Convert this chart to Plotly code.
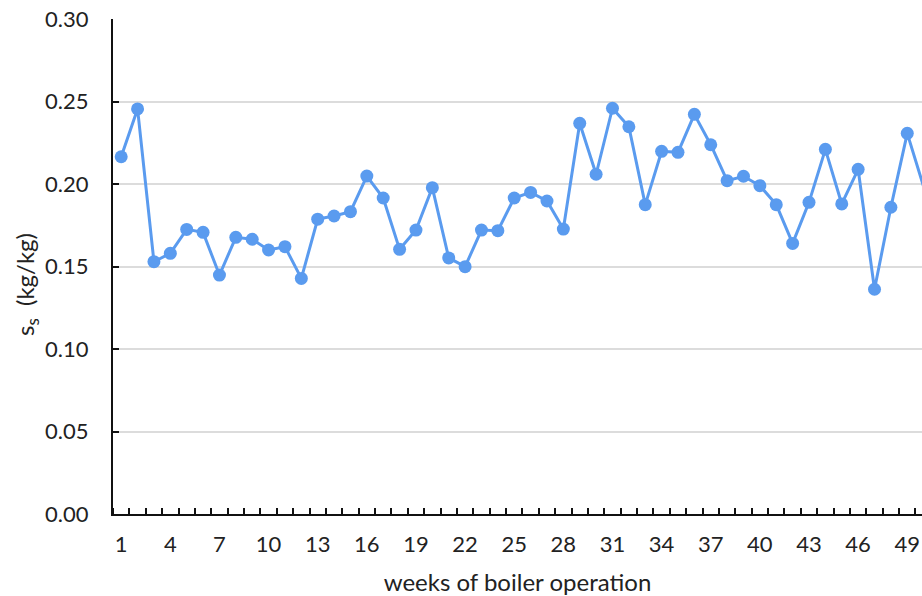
import plotly.graph_objects as go

weeks = list(range(1, 51))
ss_values = [
    0.2165, 0.2455, 0.1529, 0.1580, 0.1725, 0.1707, 0.1448, 0.1677, 0.1665, 0.1600,
    0.1620, 0.1428, 0.1787, 0.1806, 0.1832, 0.2048, 0.1915, 0.1604, 0.1721, 0.1978,
    0.1552, 0.1499, 0.1721, 0.1717, 0.1915, 0.1949, 0.1897, 0.1727, 0.2368, 0.2059,
    0.2459, 0.2347, 0.1875, 0.2198, 0.2192, 0.2422, 0.2238, 0.2020, 0.2047, 0.1990,
    0.1875, 0.1640, 0.1889, 0.2210, 0.1879, 0.2089, 0.1362, 0.1859, 0.2307, 0.1984,
]
x_tick_vals = list(range(1, 50, 3))
x_tick_text = [str(v) for v in x_tick_vals]
y_tick_vals = [0.0, 0.05, 0.10, 0.15, 0.20, 0.25, 0.30]
y_tick_text = ["0.00", "0.05", "0.10", "0.15", "0.20", "0.25", "0.30"]

color = "#5A9BEF"
font_family = "Lato, 'Open Sans', sans-serif"

W, H = 922, 596
ML, MR, MT, MB = 113, 0, 19, 82
plot_w = W - ML - MR
plot_h = H - MT - MB

fig = go.Figure()
fig.add_trace(go.Scatter(
    x=weeks, y=ss_values, mode="lines+markers",
    line=dict(color=color, width=3),
    marker=dict(color=color, size=13),
    cliponaxis=False,
    showlegend=False,
))

fig.update_layout(
    width=W, height=H,
    margin=dict(l=ML, r=MR, t=MT, b=MB),
    plot_bgcolor="white", paper_bgcolor="white",
    font=dict(family=font_family, size=22, color="#222222"),
)

fig.update_xaxes(
    range=[0.5, 49.9], automargin=False,
    tickmode="array", tickvals=x_tick_vals, ticktext=x_tick_text,
    ticks="", showgrid=False, zeroline=False,
    showline=True, linecolor="#111111", linewidth=2,
    ticklabelstandoff=10, ticklabeloverflow="allow",
    minor=dict(tickmode="linear", tick0=0.5, dtick=1, ticks="inside",
               ticklen=6, tickwidth=1.5, tickcolor="#111111", showgrid=False),
    title=dict(text="weeks of boiler operation", standoff=19,
               font=dict(size=24, family=font_family, color="#222222")),
)

fig.update_yaxes(
    range=[0, 0.30], automargin=False,
    tickmode="array", tickvals=y_tick_vals, ticktext=y_tick_text,
    ticks="inside", ticklen=6, tickwidth=1.5, tickcolor="#111111",
    showgrid=True, gridcolor="#DCDCDC", gridwidth=1.5,
    zeroline=False,
    showline=True, linecolor="#111111", linewidth=2,
    ticklabelstandoff=18, ticklabeloverflow="allow",
)

# y-axis title as a rotated annotation (positioned like the reference)
fig.add_annotation(
    text="s<sub>s</sub>  (kg/kg)", textangle=-90,
    xref="paper", yref="paper",
    x=-(ML - 26) / plot_w, y=(H - MB - 285) / plot_h,
    xanchor="center", yanchor="middle", showarrow=False,
    font=dict(size=24, family=font_family, color="#222222"),
)

fig.write_html(
    "out.html",
    config={"displayModeBar": False},
    post_script="document.body.style.margin='0';document.body.style.overflow='hidden';",
)
